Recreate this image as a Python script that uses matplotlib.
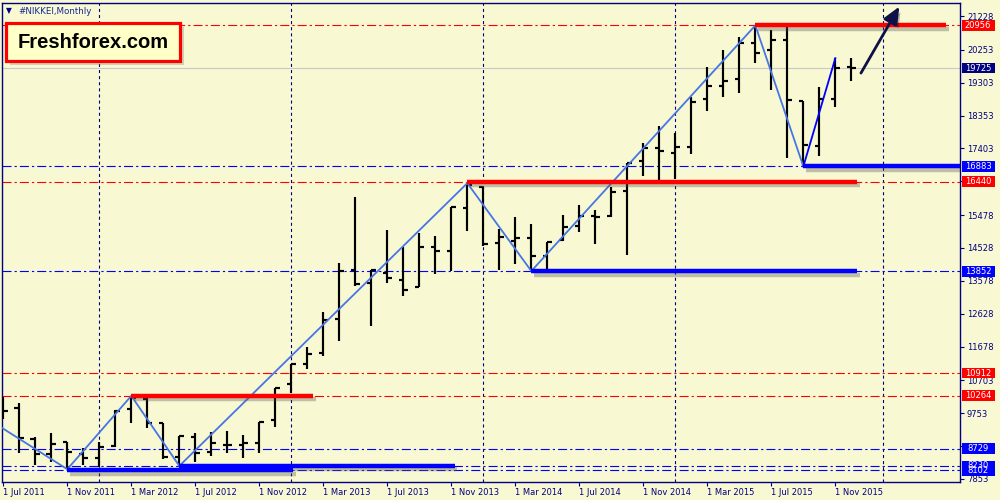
import matplotlib
matplotlib.use('Agg')
import matplotlib.pyplot as plt
from matplotlib.collections import LineCollection
import matplotlib.patheffects as pe
from matplotlib.patches import Rectangle
import matplotlib.transforms as mtransforms

plt.rcParams['lines.scale_dashes'] = False
plt.rcParams['font.family'] = ['DejaVu Sans']

# ---------------- data ----------------
symbol_title = "#NIKKEI,Monthly"
brand = "Freshforex.com"

# monthly bars, index 0 = Jul 2011 ... 53 = Dec 2015
bar_index = list(range(54))
opens = [9870, 9913, 8999, 8566, 8913, 8575, 8468, 8820, 9866, 10164,
         9462, 8497, 9075, 8624, 8835, 8835, 8901, 9557, 10598, 11176,
         11502, 12476, 13892, 13508, 13814, 13603, 13410, 14566, 14450, 15693,
         16282, 14681, 14730, 14826, 14306, 14759, 15172, 15453, 15453, 16175,
         17042, 17427, 17282, 17456, 18834, 19210, 19412, 20444, 20250, 20539,
         18776, 17476, 18825, 19768]
highs = [10230, 10040, 9075, 9173, 8930, 8739, 8913, 9850, 10255, 10190,
         9470, 9104, 9173, 9219, 9239, 9124, 9508, 10491, 11176, 11658,
         12687, 14086, 15993, 13892, 15048, 14548, 14953, 14875, 15704, 16400,
         16282, 15068, 15415, 15213, 14710, 15482, 15771, 15626, 16300, 16993,
         17554, 18063, 17843, 18883, 19768, 20250, 20617, 20956, 20828, 20924,
         18776, 19172, 20010, 20028]
lows = [9577, 8595, 8257, 8335, 8135, 8257, 8190, 8786, 9479, 9335,
        8430, 8230, 8335, 8526, 8612, 8468, 8612, 9364, 10329, 11022,
        11415, 11849, 13430, 12283, 13508, 13150, 13410, 13768, 13872, 15028,
        14586, 13892, 14066, 13860, 13872, 14730, 14982, 14635, 15415, 14326,
        16617, 16444, 16513, 17236, 18487, 18883, 18999, 19866, 19094, 17138,
        16883, 17195, 18612, 19363]
closes = [9826, 9028, 8575, 8872, 8641, 8450, 8786, 9830, 10184, 9479,
          8479, 9104, 8612, 8884, 8835, 8901, 9491, 10491, 11167, 11465,
          12447, 13863, 13488, 13892, 13652, 13314, 14566, 14450, 15704, 16349,
          14644, 14855, 14826, 14306, 14693, 15144, 15453, 15433, 16155, 16976,
          17427, 17331, 17456, 18756, 19210, 19354, 20444, 20172, 20539, 18805,
          17505, 18825, 19739, 19725]

xtick_pos = [0, 4, 8, 12, 16, 20, 24, 28, 32, 36, 40, 44, 48, 52]
xtick_labels = ["1 Jul 2011", "1 Nov 2011", "1 Mar 2012", "1 Jul 2012",
                "1 Nov 2012", "1 Mar 2013", "1 Jul 2013", "1 Nov 2013",
                "1 Mar 2014", "1 Jul 2014", "1 Nov 2014", "1 Mar 2015",
                "1 Jul 2015", "1 Nov 2015"]
ytick_vals = [21228, 20253, 19303, 18353, 17403, 16453, 15478, 14528,
              13578, 12628, 11678, 10703, 9753, 8803, 7853]
grid_x = [6, 18, 30, 42, 55]

zigzag_x = [-1, 4, 8, 11, 29, 33, 47, 50]
zigzag_y = [9597, 8135, 10255, 8230, 16400, 13860, 20956, 16883]
zigzag_last_x = [50, 52]
zigzag_last_y = [16883, 20010]

resistance_levels = [20956, 16440, 10912, 10264]
support_levels = [16883, 13852, 8729, 8230, 8102]
current_price = 19725

res_seg_level = [20956, 16440, 10264]
res_seg_start = [47, 29, 8]
res_seg_end = [58.9, 53.35, 19.35]
sup_seg_level = [16883, 13852, 8230, 8102]
sup_seg_start = [50, 33, 11, 4]
sup_seg_end = [59.8, 53.35, 28.2, 18.1]

label_values = [20956, 19725, 16883, 16440, 13852, 10912, 10264, 8729, 8230, 8102]
label_colors = ['#FF0000', '#000080', '#0000FF', '#FF0000', '#0000FF',
                '#FF0000', '#FF0000', '#0000FF', '#0000FF', '#0000FF']

arrow_tail = (53.6, 19580)
arrow_head = (56.0, 21500)

# ---------------- style ----------------
BG = '#F8F8D2'
NAVY = '#000080'

fig = plt.figure(figsize=(10, 5), dpi=100, facecolor=BG)
ax = fig.add_axes([0.002, 0.036, 0.958, 0.958], facecolor=BG)
ax.set_xlim(-0.081, 59.79)
ax.set_ylim(7766, 21604)

for s in ax.spines.values():
    s.set_color(NAVY)
    s.set_linewidth(1.0)

# grid verticals
for gx in grid_x:
    ax.axvline(gx, color=NAVY, lw=0.8, ls=(0, (2.2, 2.2)), zorder=1)

# level dash-dot lines
for lv in resistance_levels:
    ax.axhline(lv, color='#FF0000', lw=0.8, ls=(0, (6.5, 2.2, 1.6, 2.2)), zorder=1)
for lv in support_levels:
    ax.axhline(lv, color='#0000FF', lw=0.8, ls=(0, (6.5, 2.2, 1.6, 2.2)), zorder=1)
ax.axhline(current_price, color='#C8C8C8', lw=0.8, zorder=1)

# OHLC bars
tl = 0.3
segs = []
for i, o, h, l, c in zip(bar_index, opens, highs, lows, closes):
    segs.append([(i, l), (i, h)])
    segs.append([(i - tl, o), (i, o)])
    segs.append([(i, c), (i + tl, c)])
ax.add_collection(LineCollection(segs, colors='black', linewidths=1.55,
                                 capstyle='butt', zorder=3))

# zigzag
ax.plot(zigzag_x, zigzag_y, color='#4676E4', lw=1.3, zorder=4)
ax.plot(zigzag_last_x, zigzag_last_y, color='#0000FF', lw=1.3, zorder=4)

# thick level segments with shadow
shadow = [pe.SimpleLineShadow(offset=(2, -2.5), shadow_color='#555555', alpha=0.35),
          pe.Normal()]
for lv, a, b in zip(res_seg_level, res_seg_start, res_seg_end):
    ax.plot([a, b], [lv, lv], color='#FF0000', lw=3.2, solid_capstyle='butt',
            zorder=5, path_effects=shadow)
for lv, a, b in zip(sup_seg_level, sup_seg_start, sup_seg_end):
    ax.plot([a, b], [lv, lv], color='#0000FF', lw=3.2, solid_capstyle='butt',
            zorder=5, path_effects=shadow)

# arrow
ax.annotate('', xy=arrow_head, xytext=arrow_tail,
            arrowprops=dict(arrowstyle='-|>,head_length=0.8,head_width=0.35',
                            lw=2.0, color='#101048', mutation_scale=13,
                            shrinkA=0, shrinkB=0,
                            path_effects=[pe.SimplePatchShadow(offset=(2, -2), alpha=0.3),
                                          pe.Normal()]),
            zorder=6)

# axes ticks
ax.set_xticks(xtick_pos)
ax.set_xticklabels(xtick_labels)
for lbl in ax.get_xticklabels():
    lbl.set_ha('left')
ax.tick_params(axis='x', direction='out', length=3, width=0.8, colors=NAVY,
               labelsize=6, pad=1.5)
ax.yaxis.tick_right()
ax.set_yticks(ytick_vals)
ax.set_yticklabels([str(v) for v in ytick_vals])
ax.tick_params(axis='y', direction='out', length=3, width=0.8, colors=NAVY,
               labelsize=6, pad=2)

# price labels on the right axis (boxes cover the tick labels beneath)
tr = mtransforms.blended_transform_factory(ax.transAxes, ax.transData)
ax_h_px = 0.958 * 500.0
ax_w_px = 0.958 * 1000.0
units_per_px = (21604 - 7766) / ax_h_px
box_x0 = 1.5 / ax_w_px + 1.0
box_w = 33.0 / ax_w_px
box_hh = 5.3 * units_per_px
for v, col in zip(label_values, label_colors):
    ax.add_patch(Rectangle((box_x0, v - box_hh), box_w, 2 * box_hh, transform=tr,
                           fc=col, ec='none', clip_on=False, zorder=9))
    ax.text(box_x0 + box_w / 2, v, str(v), transform=tr, ha='center', va='center',
            fontsize=6, color='white', clip_on=False, zorder=10)

# title at top-left
fig.text(0.006, 0.979, '\u25BC', fontsize=5.5, color=NAVY, ha='left', va='center')
fig.text(0.018, 0.978, symbol_title, fontsize=6.3, color='#1A2A9A',
         ha='left', va='center')

# brand box
W, H = 1000.0, 500.0
fig.patches.append(Rectangle(((6 + 4) / W, 1 - (61 + 4) / H), 174 / W, 38 / H,
                             transform=fig.transFigure, fc='#888888', ec='none',
                             alpha=0.35, zorder=20))
fig.patches.append(Rectangle((6 / W, 1 - 61 / H), 174 / W, 38 / H,
                             transform=fig.transFigure, fc='#FFFFC8', ec='#FF0000',
                             lw=2.3, zorder=21))
fig.text(93 / W, 1 - 42 / H, brand, fontsize=14.5, fontweight='bold',
         family=['Liberation Sans', 'DejaVu Sans'], color='black',
         ha='center', va='center', zorder=22)

fig.savefig('out.png', dpi=100, facecolor=BG)
